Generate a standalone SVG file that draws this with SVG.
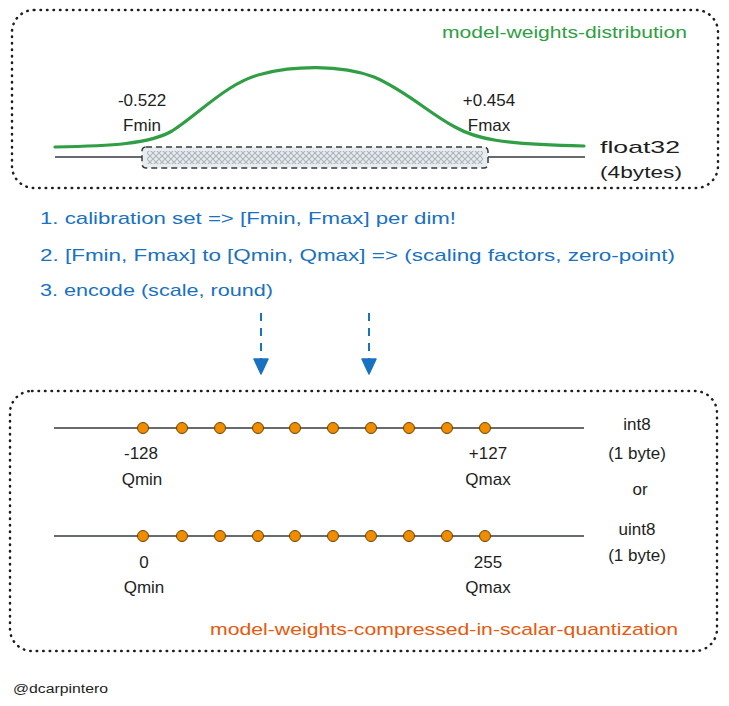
<svg xmlns="http://www.w3.org/2000/svg" width="729" height="706" viewBox="0 0 729 706">
<defs>
<style>
.box{fill:none;stroke:#1e1e1e;stroke-width:2.5;stroke-dasharray:0.5 6;stroke-linecap:round}
.t{font-family:"Liberation Sans",Arial,sans-serif;font-size:17px;fill:#1e1e1e}
.mid{text-anchor:middle}
.blue{fill:#1971c2}
.axis{stroke:#343a40;stroke-width:1.5;fill:none}
.dot{fill:#f08c00;stroke:#6b4200;stroke-width:1}
.arrow{stroke:#1971c2;stroke-width:2;stroke-dasharray:8 7;fill:none}
.head{fill:#1971c2;stroke:#1971c2;stroke-width:1.5;stroke-linejoin:round}
</style>
<pattern id="hatch" width="6" height="6" patternUnits="userSpaceOnUse">
<path d="M0,0 L6,6 M6,0 L0,6" stroke="#adb5bd" stroke-width="1.2"/>
</pattern>
</defs>
<rect width="729" height="706" fill="#ffffff"/>

<g id="weights-distribution">
<rect class="box" x="12" y="10" width="706" height="178" rx="22"/>
<text class="t" x="442" y="38" fill="#2f9e44" style="fill:#2f9e44" textLength="245" lengthAdjust="spacingAndGlyphs">model-weights-distribution</text>
<line class="axis" x1="55" y1="157" x2="585" y2="157" stroke="#495057"/>
<path d="M55,147 C110,146 150,144 172,131 C200,113 228,82 262,74 C292,66 340,64 374,77 C405,90 430,114 455,127 C476,139 500,144 584,146" fill="none" stroke="#2f9e44" stroke-width="3.2" stroke-linecap="round"/>
<rect x="142" y="147" width="346" height="21" rx="4" fill="#e9ecef" stroke="#343a40" stroke-width="1.5" stroke-dasharray="6 4"/>
<rect x="147" y="151" width="336" height="13" fill="url(#hatch)"/>
<text class="t mid" x="142" y="106">-0.522</text>
<text class="t mid" x="142" y="131">Fmin</text>
<text class="t mid" x="489" y="106">+0.454</text>
<text class="t mid" x="489" y="131">Fmax</text>
<text class="t" x="600" y="153" textLength="80" lengthAdjust="spacingAndGlyphs">float32</text>
<text class="t" x="600" y="178" textLength="82" lengthAdjust="spacingAndGlyphs">(4bytes)</text>
</g>

<g id="steps">
<text class="t blue" x="40" y="224" textLength="416" lengthAdjust="spacingAndGlyphs">1. calibration set =&gt; [Fmin, Fmax] per dim!</text>
<text class="t blue" x="40" y="261" textLength="635" lengthAdjust="spacingAndGlyphs">2. [Fmin, Fmax] to [Qmin, Qmax] =&gt; (scaling factors, zero-point)</text>
<text class="t blue" x="40" y="296" textLength="233" lengthAdjust="spacingAndGlyphs">3. encode (scale, round)</text>
</g>

<g id="connectors">
<line class="arrow" x1="261" y1="313" x2="261" y2="360"/>
<path class="head" d="M254,359 L268,359 L261,374 Z"/>
<line class="arrow" x1="369" y1="313" x2="369" y2="360"/>
<path class="head" d="M362,359 L376,359 L369,374 Z"/>
</g>

<g id="quantized">
<rect class="box" x="10" y="391" width="707" height="260" rx="22"/>
<line class="axis" x1="54" y1="428" x2="584" y2="428"/>
<g>
<circle class="dot" cx="143" cy="428" r="5.5"/><circle class="dot" cx="182" cy="428" r="5.5"/><circle class="dot" cx="220" cy="428" r="5.5"/><circle class="dot" cx="258" cy="428" r="5.5"/><circle class="dot" cx="295" cy="428" r="5.5"/><circle class="dot" cx="333" cy="428" r="5.5"/><circle class="dot" cx="371" cy="428" r="5.5"/><circle class="dot" cx="409" cy="428" r="5.5"/><circle class="dot" cx="447" cy="428" r="5.5"/><circle class="dot" cx="485" cy="428" r="5.5"/>
</g>
<text class="t mid" x="141" y="459">-128</text>
<text class="t mid" x="142" y="485">Qmin</text>
<text class="t mid" x="488" y="459">+127</text>
<text class="t mid" x="488" y="485">Qmax</text>
<text class="t mid" x="637" y="430">int8</text>
<text class="t mid" x="637" y="459">(1 byte)</text>
<text class="t mid" x="640" y="495">or</text>
<text class="t mid" x="637" y="535">uint8</text>
<text class="t mid" x="637" y="561">(1 byte)</text>
<line class="axis" x1="54" y1="536" x2="584" y2="536"/>
<g>
<circle class="dot" cx="143" cy="536" r="5.5"/><circle class="dot" cx="182" cy="536" r="5.5"/><circle class="dot" cx="220" cy="536" r="5.5"/><circle class="dot" cx="258" cy="536" r="5.5"/><circle class="dot" cx="295" cy="536" r="5.5"/><circle class="dot" cx="333" cy="536" r="5.5"/><circle class="dot" cx="371" cy="536" r="5.5"/><circle class="dot" cx="409" cy="536" r="5.5"/><circle class="dot" cx="447" cy="536" r="5.5"/><circle class="dot" cx="485" cy="536" r="5.5"/>
</g>
<text class="t mid" x="144" y="568">0</text>
<text class="t mid" x="144" y="593">Qmin</text>
<text class="t mid" x="488" y="568">255</text>
<text class="t mid" x="488" y="593">Qmax</text>
<text class="t" x="210" y="635" style="fill:#e8590c" textLength="468" lengthAdjust="spacingAndGlyphs">model-weights-compressed-in-scalar-quantization</text>
</g>

<text class="t" x="13" y="693" style="font-size:12px" textLength="95" lengthAdjust="spacingAndGlyphs">@dcarpintero</text>
</svg>
